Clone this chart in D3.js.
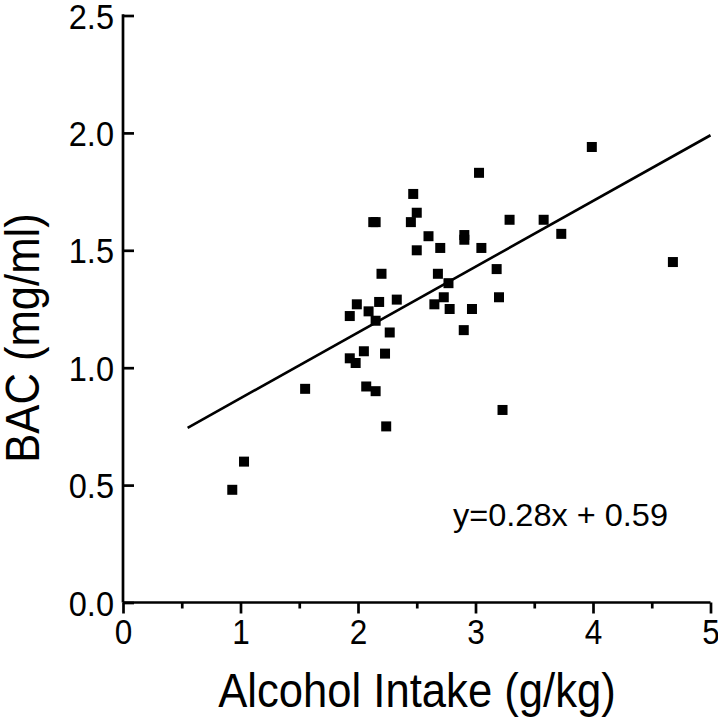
<!DOCTYPE html>
<html>
<head>
<meta charset="utf-8">
<script src="https://cdn.jsdelivr.net/npm/d3@7"></script>
<style>
  html, body { margin: 0; padding: 0; background: #fff; }
  svg { display: block; }
  text { font-family: "Liberation Sans", Arial, Helvetica, sans-serif; fill: #000; }
</style>
</head>
<body>
<svg id="chart" width="718" height="720"></svg>
<script>
// ---- data ----
const intake = [0.93, 1.03, 1.55, 1.93, 1.93, 1.98, 1.99, 2.05, 2.07, 2.09,
                2.13, 2.15, 2.15, 2.15, 2.18, 2.20, 2.23, 2.24, 2.27, 2.33,
                2.45, 2.47, 2.50, 2.50, 2.60, 2.65, 2.68, 2.70, 2.73, 2.77,
                2.78, 2.90, 2.905, 2.905, 2.97, 3.03, 3.05, 3.18, 3.20, 3.23,
                3.29, 3.58, 3.73, 3.99, 4.68];
const bac    = [0.48, 0.60, 0.91, 1.22, 1.04, 1.02, 1.27, 1.07, 0.92, 1.24,
                1.62, 1.62, 1.20, 0.90, 1.28, 1.40, 1.06, 0.75, 1.15, 1.29,
                1.62, 1.74, 1.66, 1.50, 1.56, 1.27, 1.40, 1.51, 1.30, 1.36,
                1.25, 1.16, 1.565, 1.545, 1.25, 1.83, 1.51, 1.42, 1.30, 0.82,
                1.63, 1.63, 1.57, 1.94, 1.45];
const fitX = [0.55, 5.0];
const fitY = [0.744, 1.99];
const xMajorTicks = [0, 1, 2, 3, 4, 5];
const xMinorTicks = [0.5, 1.5, 2.5, 3.5, 4.5];
const yTicks = [0.0, 0.5, 1.0, 1.5, 2.0, 2.5];
const xTitle = "Alcohol Intake (g/kg)";
const yTitle = "BAC (mg/ml)";
const equation = "y=0.28x + 0.59";

// ---- drawing ----
const svg = d3.select("#chart");
const x = d3.scaleLinear().domain([0, 5]).range([123, 710.5]);
const y = d3.scaleLinear().domain([0, 2.5]).range([602.5, 15.5]);

function condense(sel, factor) {
  sel.each(function () {
    const w = this.getComputedTextLength();
    this.setAttribute("textLength", w * factor);
    this.setAttribute("lengthAdjust", "spacingAndGlyphs");
  });
}

// x axis: majors with labels
const gxMajor = svg.append("g").attr("transform", `translate(0,${y(0)})`)
  .call(d3.axisBottom(x).tickValues(xMajorTicks).tickFormat(d3.format("d"))
        .tickSizeInner(11).tickSizeOuter(0).tickPadding(5));
gxMajor.select(".domain").attr("stroke-width", 2.7).attr("d", `M${x(0)},0H${x(5)}`);
gxMajor.selectAll(".tick line").attr("stroke-width", 2.7);
gxMajor.selectAll(".tick text").attr("font-size", 35).attr("font-family", null).attr("dy", "0.74em");
condense(gxMajor.selectAll(".tick text"), 0.9);

// x axis: minors
const gxMinor = svg.append("g").attr("transform", `translate(0,${y(0)})`)
  .call(d3.axisBottom(x).tickValues(xMinorTicks).tickFormat("")
        .tickSizeInner(6).tickSizeOuter(0));
gxMinor.select(".domain").remove();
gxMinor.selectAll(".tick line").attr("stroke-width", 2.7);

// y axis: ticks inward
const gy = svg.append("g").attr("transform", `translate(${x(0)},0)`)
  .call(d3.axisLeft(y).tickValues(yTicks).tickFormat(d3.format(".1f"))
        .tickSizeInner(-11).tickSizeOuter(0).tickPadding(9));
gy.select(".domain").attr("stroke-width", 2.7).attr("d", `M0,${y(0)}V${y(2.5) - 1.3}`);
gy.selectAll(".tick line").attr("stroke-width", 2.7);
gy.selectAll(".tick text").attr("font-size", 35).attr("font-family", null).attr("dy", "0.36em");
condense(gy.selectAll(".tick text"), 0.93);
svg.selectAll(".tick line, .domain").attr("stroke", "#000");

// regression line
svg.append("path")
  .datum(fitX.map((v, i) => [v, fitY[i]]))
  .attr("fill", "none").attr("stroke", "#000").attr("stroke-width", 2.6)
  .attr("d", d3.line().x(d => x(d[0])).y(d => y(d[1])));

// points
const pts = intake.map((v, i) => ({ x: v, y: bac[i] }));
const s = 10;
svg.append("g").selectAll("rect").data(pts).join("rect")
  .attr("x", d => x(d.x) - s / 2).attr("y", d => y(d.y) - s / 2)
  .attr("width", s).attr("height", s).attr("fill", "#000");

// equation
const eq = svg.append("text").attr("x", 453).attr("y", 526)
  .attr("font-size", 32).text(equation);
eq.attr("textLength", 215).attr("lengthAdjust", "spacingAndGlyphs");

// axis titles
const xt = svg.append("text").attr("x", 417).attr("y", 707)
  .attr("text-anchor", "middle").attr("font-size", 49).text(xTitle);
condense(xt, 0.89);
const yt = svg.append("text").attr("transform", "translate(39,338) rotate(-90)")
  .attr("text-anchor", "middle").attr("font-size", 49).text(yTitle);
condense(yt, 0.89);
</script>
</body>
</html>
